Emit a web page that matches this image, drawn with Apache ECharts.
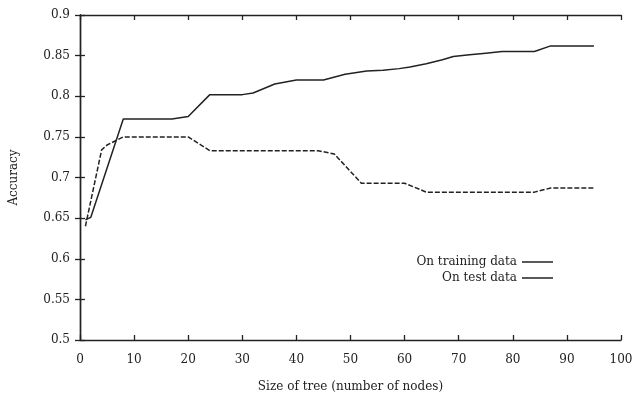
<!DOCTYPE html>
<html>
<head>
<meta charset="utf-8">
<script src="https://cdn.jsdelivr.net/npm/echarts@6/dist/echarts.min.js"></script>
<style>html,body{margin:0;padding:0;background:#fff}#c{width:637px;height:394px}</style>
</head>
<body>
<div id="c"></div>
<script>
var xTicks = [0, 10, 20, 30, 40, 50, 60, 70, 80, 90, 100];
var yTicks = [0.5, 0.55, 0.6, 0.65, 0.7, 0.75, 0.8, 0.85, 0.9];
var trainSizes = [1, 2, 8, 17, 20, 24, 30, 32, 36, 40, 45, 49, 53, 56, 59, 61, 64, 67, 69, 72, 75, 78, 84, 87, 95];
var trainAcc = [0.648, 0.651, 0.772, 0.772, 0.775, 0.802, 0.802, 0.804, 0.815, 0.82, 0.82, 0.827, 0.831, 0.832, 0.834, 0.836, 0.84, 0.845, 0.849, 0.851, 0.853, 0.855, 0.855, 0.862, 0.862];
var testSizes = [1, 4, 5, 8, 20, 24, 44, 47, 52, 60, 64, 84, 87, 95];
var testAcc = [0.64, 0.734, 0.74, 0.75, 0.75, 0.733, 0.733, 0.729, 0.693, 0.693, 0.682, 0.682, 0.687, 0.687];

function pairs(xs, ys) { return xs.map(function (x, i) { return [x, ys[i]]; }); }
var FONT = 'DejaVu Serif';
var FS = 12;
var C = '#222';
var chart = echarts.init(document.getElementById('c'));
var axisLine = { show: true, lineStyle: { color: C, width: 1.4 } };
var tick = { show: true, inside: true, length: 5, lineStyle: { color: C, width: 1.3 } };
chart.setOption({
  animation: false,
  textStyle: { fontFamily: FONT },
  grid: { left: 80, right: 16, top: 15, bottom: 54, containLabel: false, outerBoundsMode: 'none' },
  legend: {
    orient: 'vertical', right: 79, top: 251, align: 'right',
    itemWidth: 31, itemHeight: 1.5, itemGap: 4,
    icon: 'rect',
    itemStyle: { color: C },
    textStyle: { fontFamily: FONT, fontSize: FS, color: C, padding: [0, 0, 0, 0] },
    data: ['On training data', 'On test data']
  },
  xAxis: [{
    type: 'value', min: 0, max: 100, interval: 10,
    name: 'Size of tree (number of nodes)', nameLocation: 'middle', nameGap: 41,
    nameTextStyle: { fontFamily: FONT, fontSize: FS, color: C },
    axisLine: axisLine, axisTick: tick, splitLine: { show: false },
    axisLabel: { fontFamily: FONT, fontSize: FS, color: C, margin: 14, formatter: function (v) { return xTicks.indexOf(v) >= 0 ? String(v) : ''; } }
  }, {
    type: 'value', min: 0, max: 100, interval: 10, position: 'top',
    axisLine: axisLine, axisTick: tick, axisLabel: { show: false }, splitLine: { show: false }
  }],
  yAxis: [{
    type: 'value', min: 0.5, max: 0.9, interval: 0.05,
    name: 'Accuracy', nameLocation: 'middle', nameGap: 60, nameRotate: 90,
    nameTextStyle: { fontFamily: FONT, fontSize: FS, color: C },
    axisLine: axisLine, axisTick: tick, splitLine: { show: false },
    axisLabel: { fontFamily: FONT, fontSize: FS, color: C, margin: 10, formatter: function (v) { var r = Math.round(v * 100) / 100; return String(r); } }
  }, {
    type: 'value', min: 0.5, max: 0.9, interval: 0.05, position: 'right',
    axisLine: axisLine, axisTick: tick, axisLabel: { show: false }, splitLine: { show: false }
  }],
  series: [{
    name: 'On training data', type: 'line', symbol: 'none',
    data: pairs(trainSizes, trainAcc),
    lineStyle: { color: C, width: 1.5, type: 'solid' }, itemStyle: { color: C }
  }, {
    name: 'On test data', type: 'line', symbol: 'none',
    data: pairs(testSizes, testAcc),
    lineStyle: { color: C, width: 1.5, type: [5, 2] }, itemStyle: { color: C }
  }]
});
</script>
</body>
</html>
